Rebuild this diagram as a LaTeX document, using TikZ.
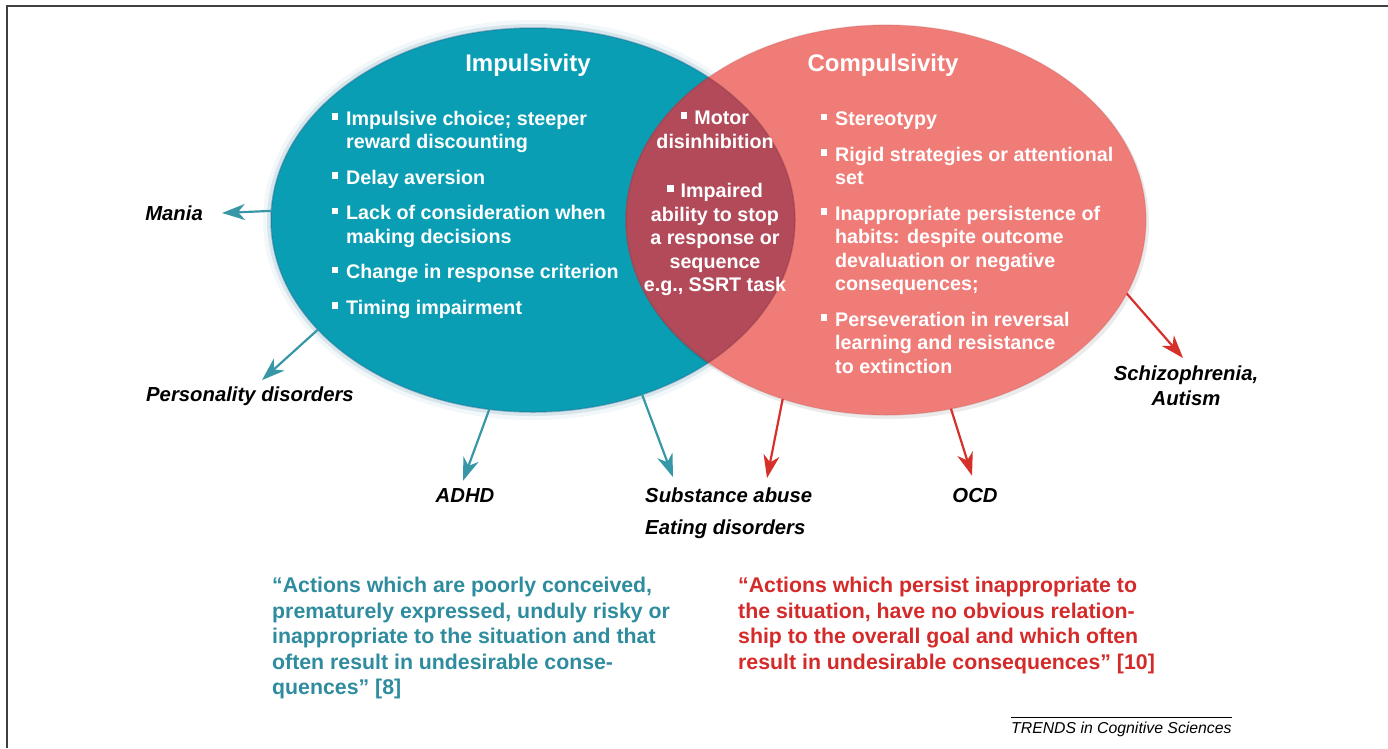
\documentclass[tikz,border=0pt]{standalone}
\usepackage{fontspec}
\setmainfont{Liberation Sans}
\usetikzlibrary{shapes.geometric,arrows.meta}

\definecolor{impblue}{HTML}{0A9EB5}
\definecolor{impedge}{HTML}{1F6F93}
\definecolor{compred}{HTML}{F07C78}
\definecolor{lensred}{HTML}{B24A5A}
\definecolor{tealarrow}{HTML}{3897A6}
\definecolor{redarrow}{HTML}{D6302A}
\definecolor{tealtext}{HTML}{2E8C9E}
\definecolor{redtext}{HTML}{D42A2A}

\newcommand{\bul}{\rule[0.3em]{0.33em}{0.33em}}
\newcommand{\bitem}{\llap{\bul\hspace{8pt}}}

\tikzset{
  circ/.style={ellipse, inner sep=0pt, outer sep=0pt},
  title/.style={text=white, inner sep=0pt, font=\fontsize{24}{28}\selectfont\bfseries},
  list/.style={text=white, align=left, inner sep=0pt, font=\fontsize{19.7}{23.5}\selectfont\bfseries},
  lbl/.style={inner sep=0pt, font=\fontsize{20.3}{25}\selectfont\bfseries\itshape},
  quote/.style={align=left, inner sep=0pt, font=\fontsize{21.3}{25.5}\selectfont\bfseries},
  tarr/.style={tealarrow, line width=2.2pt, -{Stealth[length=23pt,width=16pt,inset=7pt]}},
  rarr/.style={redarrow, line width=2.2pt, -{Stealth[length=23pt,width=16pt,inset=7pt]}},
}

\begin{document}
\begin{tikzpicture}[x=1pt, y=-1pt]
    \useasboundingbox (0,0) rectangle (1388,748);

    % --- Rahmen ---
    \draw[line width=2pt, black!75] (7,748) -- (7,6) -- (1388,6);

    % --- Ellipsen ---
    % weicher Rand um die blaue Ellipse
    \fill[impedge, opacity=0.06] (533,220) ellipse [x radius=270, y radius=200];
    \fill[impedge, opacity=0.12] (533,220) ellipse [x radius=266, y radius=196];
    \node[circ, fill=impblue, minimum width=524pt, minimum height=384pt] (imp) at (533,220) {};
    \draw[impedge, opacity=0.45, line width=1.5pt] (533,220) ellipse [x radius=262, y radius=192];
    % leichter Schatten der roten Ellipse
    \fill[black, opacity=0.08] (888,223) ellipse [x radius=261, y radius=196];
    \node[circ, fill=compred, minimum width=520pt, minimum height=390pt] (comp) at (886,220) {};
    \draw[compred!80!black, opacity=0.3, line width=1.2pt] (886,220) ellipse [x radius=260, y radius=195];

    % Schnittmenge
    \begin{scope}
        \clip (533,220) ellipse [x radius=262, y radius=192];
        \fill[lensred] (886,220) ellipse [x radius=260, y radius=195];
        \draw[lensred!75!black, opacity=0.4, line width=1.5pt] (886,220) ellipse [x radius=260, y radius=195];
    \end{scope}
    \begin{scope}
        \clip (886,220) ellipse [x radius=260, y radius=195];
        \draw[lensred!75!black, opacity=0.4, line width=1.5pt] (533,220) ellipse [x radius=262, y radius=192];
    \end{scope}

    % --- Titel ---
    \node[title, anchor=base] (imptitle) at (528,71) {Impulsivity};
    \node[title, anchor=base] (comptitle) at (883,71) {Compulsivity};

    % --- Listen ---
    \node[list, anchor=north west] (implist) at (346,111) {%
        \bitem Impulsive choice; steeper\\reward discounting\\[12pt]
        \bitem Delay aversion\\[12pt]
        \bitem Lack of consideration when\\making decisions\\[12pt]
        \bitem Change in response criterion\\[12pt]
        \bitem Timing impairment};
    \node[list, align=center, anchor=north] (lens) at (715,111) {%
        \bul\hspace{7pt}Motor\\disinhibition\\[26pt]
        \bul\hspace{7pt}Impaired\\ability to stop\\a response or\\sequence\\e.g., SSRT task};
    \node[list, anchor=north west] (complist) at (835,112) {%
        \bitem Stereotypy\\[12pt]
        \bitem Rigid strategies or attentional\\set\\[12pt]
        \bitem Inappropriate persistence of\\habits: despite outcome\\devaluation or negative\\consequences;\\[12pt]
        \bitem Perseveration in reversal\\learning and resistance\\to extinction};

    % --- Stoerungen ---
    \node[lbl, anchor=east] (mania) at (203,213) {Mania};
    \node[lbl, anchor=base] (pers) at (250,401) {Personality disorders};
    \node[lbl, anchor=base] (adhd) at (465,502) {ADHD};
    \node[lbl, anchor=base west] (subst) at (645,502) {Substance abuse};
    \node[lbl, anchor=base west] (eat) at (645,534) {Eating disorders};
    \node[lbl, anchor=base] (ocd) at (975,502) {OCD};
    \node[lbl, align=center, anchor=north] (schiz) at (1186,366) {Schizophrenia,\\Autism};

    % --- Pfeile ---
    \draw[tarr] (imp.178.5) -- ([xshift=19pt]mania.east);
    \draw[tarr] (imp.207.2) -- ([xshift=12pt,yshift=6pt]pers.north);
    \draw[tarr] (imp.257.9) -- ([xshift=-2pt,yshift=7pt]adhd.north);
    \draw[tarr] (imp.302.9) -- ([xshift=28pt,yshift=10pt]subst.north west);
    \draw[rarr] (comp.240) -- ([xshift=122pt,yshift=9pt]subst.north west);
    \draw[rarr] (comp.289.8) -- ([xshift=-3pt,yshift=12pt]ocd.north);
    \draw[rarr] (comp.343.2) -- ([xshift=-3pt,yshift=8pt]schiz.north);

    % --- Definitionen ---
    \node[quote, text=tealtext, anchor=north west] (impquote) at (272,577) {%
        ``Actions which are poorly conceived,\\
        prematurely expressed, unduly risky or\\
        inappropriate to the situation and that\\
        often result in undesirable conse-\\
        quences'' [8]};
    \node[quote, text=redtext, anchor=north west] (compquote) at (738,577) {%
        ``Actions which persist inappropriate to\\
        the situation, have no obvious relation-\\
        ship to the overall goal and which often\\
        result in undesirable consequences'' [10]};

    % --- Quelle ---
    \node[inner sep=0pt, anchor=base west, font=\fontsize{15.8}{18}\selectfont\itshape] (trends) at (1011,733) {TRENDS in Cognitive Sciences};
    \draw[line width=0.8pt] ([yshift=3.5pt]trends.north west) -- ([yshift=3.5pt]trends.north east);
\end{tikzpicture}
\end{document}
